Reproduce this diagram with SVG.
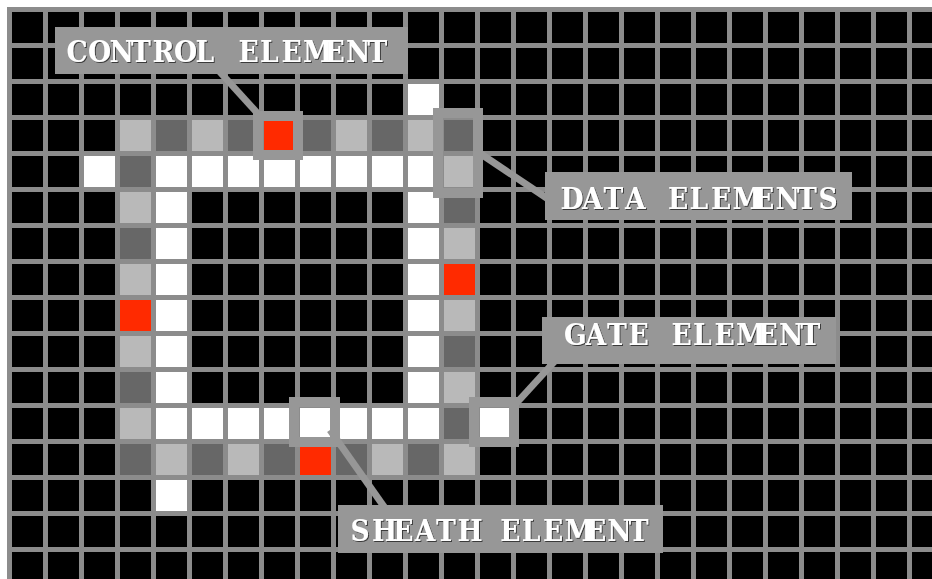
<svg xmlns="http://www.w3.org/2000/svg" width="932" height="579" viewBox="0 0 932 579">
<defs>
<style>
.W{fill:#ffffff}.L{fill:#b9b9b9}.D{fill:#676767}.R{fill:#ff2a00}
.frame{fill:none;stroke:#979797;stroke-width:10}
.conn{stroke:#979797;stroke-width:7;stroke-linecap:butt;fill:none}
.box{fill:#979797}
.lbl{font-family:"DejaVu Serif Condensed","DejaVu Serif","Liberation Serif",serif;font-stretch:condensed;font-weight:bold;font-size:29.5px;fill:#ffffff;filter:url(#sh)}
</style>
<pattern id="grid" x="12" y="12" width="36" height="36" patternUnits="userSpaceOnUse">
<rect x="0" y="0" width="31" height="31" fill="#000000"/>
</pattern>
<filter id="sh" x="-5%" y="-20%" width="110%" height="140%">
<feDropShadow dx="1" dy="1" stdDeviation="0.6" flood-color="#303030" flood-opacity="0.9"/>
</filter>
</defs>
<rect x="0" y="0" width="932" height="579" fill="#ffffff"/>
<rect x="7" y="7" width="925" height="572" fill="#8c8c8c"/>
<rect x="12" y="12" width="920" height="567" fill="url(#grid)"/>
<g id="cells">
<rect class="W" x="408" y="84" width="31" height="31"/>
<rect class="L" x="120" y="120" width="31" height="31"/>
<rect class="D" x="156" y="120" width="31" height="31"/>
<rect class="L" x="192" y="120" width="31" height="31"/>
<rect class="D" x="228" y="120" width="31" height="31"/>
<rect class="R" x="264" y="120" width="31" height="31"/>
<rect class="D" x="300" y="120" width="31" height="31"/>
<rect class="L" x="336" y="120" width="31" height="31"/>
<rect class="D" x="372" y="120" width="31" height="31"/>
<rect class="L" x="408" y="120" width="31" height="31"/>
<rect class="D" x="444" y="120" width="31" height="31"/>
<rect class="W" x="84" y="156" width="31" height="31"/>
<rect class="D" x="120" y="156" width="31" height="31"/>
<rect class="W" x="156" y="156" width="31" height="31"/>
<rect class="W" x="192" y="156" width="31" height="31"/>
<rect class="W" x="228" y="156" width="31" height="31"/>
<rect class="W" x="264" y="156" width="31" height="31"/>
<rect class="W" x="300" y="156" width="31" height="31"/>
<rect class="W" x="336" y="156" width="31" height="31"/>
<rect class="W" x="372" y="156" width="31" height="31"/>
<rect class="W" x="408" y="156" width="31" height="31"/>
<rect class="L" x="444" y="156" width="31" height="31"/>
<rect class="L" x="120" y="192" width="31" height="31"/>
<rect class="W" x="156" y="192" width="31" height="31"/>
<rect class="W" x="408" y="192" width="31" height="31"/>
<rect class="D" x="444" y="192" width="31" height="31"/>
<rect class="D" x="120" y="228" width="31" height="31"/>
<rect class="W" x="156" y="228" width="31" height="31"/>
<rect class="W" x="408" y="228" width="31" height="31"/>
<rect class="L" x="444" y="228" width="31" height="31"/>
<rect class="L" x="120" y="264" width="31" height="31"/>
<rect class="W" x="156" y="264" width="31" height="31"/>
<rect class="W" x="408" y="264" width="31" height="31"/>
<rect class="R" x="444" y="264" width="31" height="31"/>
<rect class="R" x="120" y="300" width="31" height="31"/>
<rect class="W" x="156" y="300" width="31" height="31"/>
<rect class="W" x="408" y="300" width="31" height="31"/>
<rect class="L" x="444" y="300" width="31" height="31"/>
<rect class="L" x="120" y="336" width="31" height="31"/>
<rect class="W" x="156" y="336" width="31" height="31"/>
<rect class="W" x="408" y="336" width="31" height="31"/>
<rect class="D" x="444" y="336" width="31" height="31"/>
<rect class="D" x="120" y="372" width="31" height="31"/>
<rect class="W" x="156" y="372" width="31" height="31"/>
<rect class="W" x="408" y="372" width="31" height="31"/>
<rect class="L" x="444" y="372" width="31" height="31"/>
<rect class="L" x="120" y="408" width="31" height="31"/>
<rect class="W" x="156" y="408" width="31" height="31"/>
<rect class="W" x="192" y="408" width="31" height="31"/>
<rect class="W" x="228" y="408" width="31" height="31"/>
<rect class="W" x="264" y="408" width="31" height="31"/>
<rect class="W" x="300" y="408" width="31" height="31"/>
<rect class="W" x="336" y="408" width="31" height="31"/>
<rect class="W" x="372" y="408" width="31" height="31"/>
<rect class="W" x="408" y="408" width="31" height="31"/>
<rect class="D" x="444" y="408" width="31" height="31"/>
<rect class="W" x="480" y="408" width="31" height="31"/>
<rect class="D" x="120" y="444" width="31" height="31"/>
<rect class="L" x="156" y="444" width="31" height="31"/>
<rect class="D" x="192" y="444" width="31" height="31"/>
<rect class="L" x="228" y="444" width="31" height="31"/>
<rect class="D" x="264" y="444" width="31" height="31"/>
<rect class="R" x="300" y="444" width="31" height="31"/>
<rect class="D" x="336" y="444" width="31" height="31"/>
<rect class="L" x="372" y="444" width="31" height="31"/>
<rect class="D" x="408" y="444" width="31" height="31"/>
<rect class="L" x="444" y="444" width="31" height="31"/>
<rect class="W" x="156" y="480" width="31" height="31"/>
</g>
<g id="connectors">
<line class="conn" x1="209" y1="60" x2="260" y2="116"/>
<line class="conn" x1="478" y1="152" x2="560" y2="207"/>
<line class="conn" x1="512" y1="408" x2="565" y2="350"/>
<line class="conn" x1="330" y1="430" x2="392" y2="518"/>
</g>
<g id="control-element">
<rect class="frame" x="258" y="116" width="40" height="39" stroke-width="9"/>
<rect class="box" x="55" y="27" width="353" height="47"/>
<text class="lbl" y="62" x="66.5 88 109.5 131 152.5 174 195.5 217 238.5 260 281.5 303 324.5 346 367.5">CONTROL ELEMENT</text>
</g>
<g id="data-elements">
<rect class="frame" x="438" y="113" width="40" height="80"/>
<rect class="box" x="545" y="172" width="307" height="48"/>
<text class="lbl" y="208.5" x="560.5 582 603.5 625 646.5 668 689.5 711 732.5 754 775.5 797 818.5">DATA ELEMENTS</text>
</g>
<g id="gate-element">
<rect class="frame" x="474" y="402" width="40" height="40"/>
<rect class="box" x="542" y="317" width="294" height="47"/>
<text class="lbl" y="345" x="564 585.5 607 628.5 650 671.5 693 714.5 736 757.5 779 800.5">GATE ELEMENT</text>
</g>
<g id="sheath-element">
<rect class="frame" x="294" y="402" width="41" height="40"/>
<rect class="box" x="338" y="505" width="325" height="48"/>
<text class="lbl" y="541" x="350.5 371.9 393.3 414.7 436.1 457.5 478.9 500.3 521.7 543.1 564.5 585.9 607.3 628.7">SHEATH ELEMENT</text>
</g>
</svg>
